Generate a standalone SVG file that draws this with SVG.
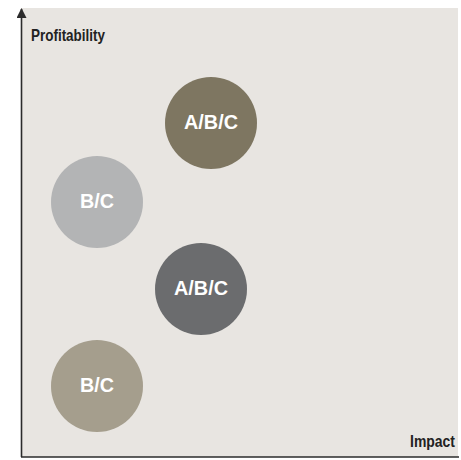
<svg xmlns="http://www.w3.org/2000/svg" width="461" height="460" viewBox="0 0 461 460">
<defs>
<style>
.lbl{font-family:"Liberation Sans",Arial,sans-serif;font-weight:bold;fill:#fff;font-size:20px;text-anchor:middle}
.ax{font-family:"Liberation Sans",Arial,sans-serif;font-weight:bold;fill:#222;font-size:17px}
.axis{stroke:#2b2b2b;stroke-width:1.6;fill:none}
</style>
<marker id="ah" viewBox="0 0 10 10" refX="9" refY="5" markerWidth="10" markerHeight="10" markerUnits="userSpaceOnUse" orient="auto">
<path d="M0,0 L10,5 L0,10 z" fill="#2b2b2b"/>
</marker>
</defs>
<rect x="0" y="0" width="461" height="460" fill="#ffffff"/>
<rect x="21" y="8" width="437" height="449" fill="#e8e5e1"/>
<g id="connectors">
<path class="axis" d="M21.5,457 L21.5,9" marker-end="url(#ah)"/>
<path class="axis" d="M21,457 L459,457"/>
</g>
<text class="ax" x="31" y="40.5" textLength="74" lengthAdjust="spacingAndGlyphs">Profitability</text>
<text class="ax" x="410" y="446.5" textLength="45" lengthAdjust="spacingAndGlyphs">Impact</text>
<g id="n1"><circle cx="211" cy="123" r="46" fill="#7e7661"/><text class="lbl" x="211" y="128.5" textLength="54" lengthAdjust="spacingAndGlyphs">A/B/C</text></g>
<g id="n2"><circle cx="97" cy="202" r="46" fill="#b3b4b5"/><text class="lbl" x="97" y="207.5" textLength="34" lengthAdjust="spacingAndGlyphs">B/C</text></g>
<g id="n3"><circle cx="201" cy="289" r="46" fill="#6b6c6e"/><text class="lbl" x="201" y="294.5" textLength="54" lengthAdjust="spacingAndGlyphs">A/B/C</text></g>
<g id="n4"><circle cx="97" cy="386" r="46" fill="#a59e8d"/><text class="lbl" x="97" y="391.5" textLength="34" lengthAdjust="spacingAndGlyphs">B/C</text></g>
</svg>
